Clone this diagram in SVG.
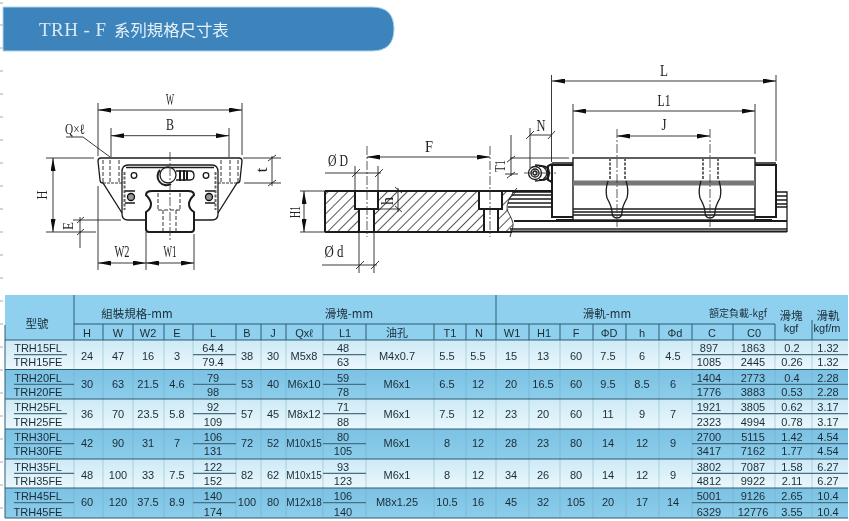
<svg xmlns="http://www.w3.org/2000/svg" width="849" height="521" viewBox="0 0 849 521">
<style>
text{font-family:"Liberation Sans","Noto Sans CJK TC",sans-serif;fill:#1a2c36;font-size:11px;text-anchor:middle}
.cjk{font-family:"Noto Sans CJK TC","Liberation Sans",sans-serif}
.hd{font-size:11.5px}
.sm{font-size:10px}
.d{font-family:"Liberation Serif","Noto Sans CJK TC",serif;font-size:16.5px;fill:#222}
.ln{fill:none;stroke:#1a1a1a;stroke-width:1.3}
.th{fill:none;stroke:#1a1a1a;stroke-width:2}
.dm{fill:none;stroke:#222;stroke-width:.9}
.ar{marker-start:url(#ah);marker-end:url(#ah)}
.ds{fill:none;stroke:#333;stroke-width:1;stroke-dasharray:4 2}
.dg{fill:none;stroke:#666;stroke-width:2;stroke-dasharray:3 1.5}
.cl{fill:none;stroke:#333;stroke-width:.8;stroke-dasharray:9 2 2 2}
.vl{stroke:#6ba5c2;stroke-width:.7;fill:none;opacity:.6}
.vd{stroke:#2f5f76;stroke-width:1;fill:none}
.rl{stroke:#2a5a72;stroke-width:1;fill:none}
.sp{stroke:#4a6f82;stroke-width:1.3;fill:none}
.lt{fill:url(#gl)}
.dk{fill:url(#gd)}
.soft{filter:url(#soft)}
</style>
<defs>
<filter id="soft" x="-2%" y="-2%" width="104%" height="104%"><feGaussianBlur stdDeviation="0.35"/></filter>
<marker id="ah" viewBox="0 0 13 5" refX="13" refY="2.5" markerWidth="13" markerHeight="5" markerUnits="userSpaceOnUse" orient="auto-start-reverse"><path d="M0 0L13 2.5L0 5z" fill="#111"/></marker>
<pattern id="hatch" width="7" height="7" patternUnits="userSpaceOnUse" patternTransform="rotate(45)"><line x1="3.5" y1="0" x2="3.5" y2="7" stroke="#555" stroke-width="1"/></pattern>
<linearGradient id="gl" x1="0" y1="0" x2="0" y2="1"><stop offset="0" stop-color="#cdeaf6"/><stop offset="1" stop-color="#ebf7fc"/></linearGradient>
<linearGradient id="gd" x1="0" y1="0" x2="0" y2="1"><stop offset="0" stop-color="#7cc2e4"/><stop offset="1" stop-color="#8ccdea"/></linearGradient>
</defs>
<rect width="849" height="521" fill="#fff"/>

<g id="margin-ticks" stroke="#aaa" stroke-width="1">
<path d="M0 3H3M0 25H3M0 48H3M0 71H3M0 94H3M0 117H3M0 140H3M0 163H3M0 186H3M0 209H3M0 232H3M0 255H3M0 278H3M0 301H3M0 324H3M0 347H3M0 370H3M0 393H3M0 416H3M0 439H3M0 462H3M0 485H3M0 508H3"/>
</g>

<g id="banner" class="soft">
<path d="M3 7H372Q394 7 394 29Q394 51 372 51H3Z" fill="#3d84bd" stroke="#a9d4ec" stroke-width="1"/>
<text x="39" y="36" textLength="67" lengthAdjust="spacing" style="font-family:'Liberation Serif',serif;font-size:19px;fill:#dbe9f3;text-anchor:start">TRH - F</text>
<text class="cjk" x="114" y="36" style="font-size:16.4px;fill:#e6f0f7;text-anchor:start">系列規格尺寸表</text>
</g>

<g id="front-view" class="soft">
<path class="ln" d="M101 158H239Q242 158 242 161L240 180Q240 183 237 183L218 213M101 158Q98 158 98 161L100 180Q100 183 103 183L122 213"/>
<path class="dm" d="M103 183H122M218 183H237" stroke-dasharray="3 1"/>
<path class="ln" d="M122 172Q122 165 128 165H212Q218 165 218 172V214Q218 220 212 220H194M122 172V214Q122 220 128 220H146"/>
<path class="ln" d="M126 167.5H214"/>
<path class="dg" d="M124.5 172V210M215.5 172V210"/>
<path class="th" d="M152 191H188Q194 191 194 195Q189 200 189 204Q189 209 194 212V229Q194 232 191 232H149Q146 232 146 229V212Q151 209 151 204Q151 200 146 195Q146 191 152 191Z"/>
<path class="ds" d="M103 160V182M110 160V182M119 160V182M221 160V182M230 160V182M238 160V182M158 193V210M180 193V210M163 210V232M176 210V232M158 210H180"/>
<circle class="ln" cx="134" cy="175.5" r="2.8"/>
<circle class="ln" cx="206" cy="175.5" r="2.8"/>
<circle cx="131" cy="197" r="3.5" fill="#999" stroke="#111" stroke-width="1.3"/>
<circle cx="209" cy="197" r="3.5" fill="#999" stroke="#111" stroke-width="1.3"/>
<path class="ln" d="M135 191H125M135 203H125M205 191H215M205 203H215"/>
<circle class="ln" cx="168" cy="175" r="8"/>
<path class="th" d="M160 170A9 9 0 0 0 171 184"/>
<path class="ln" d="M176 171H190Q194 171 194 175.5Q194 180 190 180H176"/>
<path class="th" d="M180 170V181M184 170V181M187 171V180"/>
<path class="cl" d="M170 152V240"/>
<path class="dm" d="M46 158H94M46 232H96M73 220H121M243 158H281M244 183H281M98 103V156M98 186V270M242 103V155M111 128V157M229 128V157M146 232V270M194 234V270"/>
<path class="dm ar" d="M98 110H242"/>
<path class="dm ar" d="M111 135.7H229"/>
<path class="dm ar" d="M53 158V232"/>
<path class="dm ar" d="M98 263H146"/>
<path class="dm ar" d="M146 263H194"/>
<path class="dm" d="M80 217V248M77 223L84 217M77 235L84 229M272 156V186M268 161L276 155M268 186L276 180"/>
<path class="dm" d="M66 137H83L110 157"/>
<text class="d" x="170" y="105" textLength="8" lengthAdjust="spacingAndGlyphs">W</text>
<text class="d" x="170" y="130" textLength="8" lengthAdjust="spacingAndGlyphs">B</text>
<text class="d" x="75" y="134" textLength="20" lengthAdjust="spacingAndGlyphs" style="font-size:14px">Q×ℓ</text>
<text class="d" transform="translate(47 195) rotate(-90)" textLength="9" lengthAdjust="spacingAndGlyphs" style="font-size:15px">H</text>
<text class="d" transform="translate(73 226) rotate(-90)" textLength="8" lengthAdjust="spacingAndGlyphs" style="font-size:15px">E</text>
<text class="d" transform="translate(267 170) rotate(-90)" textLength="5" lengthAdjust="spacingAndGlyphs">t</text>
<text class="d" x="122" y="257" textLength="15" lengthAdjust="spacingAndGlyphs">W2</text>
<text class="d" x="170" y="257" textLength="13" lengthAdjust="spacingAndGlyphs">W1</text>
</g>

<g id="section-view" class="soft">
<path d="M326 191H355V209H359V232H326ZM378 191H479V209H484V232H374V209H378ZM502 191H517L507 205L513 225L511 232H498V209H502Z" fill="url(#hatch)"/>
<path class="th" d="M325 191H552M325 232H512M325 191V232M355 191V209H378V191M359 209V232M374 209V232M479 191V209H502V191M484 209V232M498 209V232"/>
<path class="dm" d="M517 188Q506 200 507 210Q514 222 513 226L510 237"/>
<path class="cl" d="M367 146V237M490 146V237"/>
<path class="dm" d="M300 191H325M300 232H325M355 166V191M378 166V191M325 173H381M359 232V273M374 232V273M322 265H377M378 191H400M378 209H400M398 188V212"/>
<path class="dm" d="M352 177L360 169M375 177L383 169M356 269L364 261M371 269L379 261M395 187L402 193M395 206L402 212"/>
<path class="dm ar" d="M367 157H490"/>
<path class="dm ar" d="M304 191V232"/>
<text class="d" x="429" y="152" textLength="8" lengthAdjust="spacingAndGlyphs">F</text>
<text class="d" transform="translate(300 212) rotate(-90)" textLength="12" lengthAdjust="spacingAndGlyphs" style="font-size:15px">H1</text>
<text class="d" x="338" y="166" textLength="20" lengthAdjust="spacingAndGlyphs">Ø D</text>
<text class="d" x="334" y="257" textLength="19" lengthAdjust="spacingAndGlyphs">Ø d</text>
<text class="d" transform="translate(393 201) rotate(-90)" textLength="8" lengthAdjust="spacingAndGlyphs">h</text>
</g>

<g id="side-view" class="soft">
<path class="dm" d="M511 135V176M510 158H569M505 174H518M530 128V168M551.5 75V162M776 75V161M573 104V154M755 104V154M530 135H551"/>
<path class="dm" d="M526 139L534 131M548 139L555 131M507 162L515 156M507 178L515 172"/>
<path class="dm ar" d="M552 81H776"/>
<path class="dm ar" d="M573 111H755"/>
<path class="dm ar" d="M617 136H710"/>
<rect x="573" y="158" width="182" height="62" fill="#fff" stroke="#1a1a1a" stroke-width="1.4"/>
<rect x="573" y="180.5" width="182" height="5" fill="#777"/>
<path class="ln" d="M573 209H755M573 212H755M573 215H755"/>
<path class="th" d="M552 165V217H573M552 165H573M755 165H776V217H755M556 220H573M755 220H772"/>
<path class="ln" d="M552 163H573M755 163H776"/>
<path class="ln" d="M608 181Q605 190 607 198Q612 207 612 212Q612 218 617 218Q622 218 622 212Q622 207 627 198Q629 190 626 181"/>
<path class="ln" d="M701 181Q698 190 700 198Q705 207 705 212Q705 218 710 218Q715 218 715 212Q715 207 720 198Q722 190 719 181"/>
<path class="dg" d="M610 158V180M625 158V180M703 158V180M718 158V180"/>
<path class="cl" d="M617 129V227M710 129V227"/>
<path class="ln" d="M512 192H552M512 195H552M509 199H552M508 203H552M508 207H552"/>
<path class="ln" d="M776 192H787V232M776 196H787M776 200H787M776 204H787M776 207H787"/>
<path class="th" d="M514 221H787M510 231.5H787"/>
<path class="ln" d="M510 229H787"/>
<circle class="ln" cx="535" cy="173" r="2"/>
<circle class="ln" cx="535" cy="173" r="4"/>
<circle class="ln" cx="535" cy="173" r="6.5"/>
<path class="ln" d="M535 165Q546 165 547 173Q546 181 535 181"/>
<path class="th" d="M539 166Q549 165 549 173Q549 181 539 180"/>
<path class="th" d="M552 164L548 166V180L552 182"/>
<path class="cl" d="M524 173H556"/>
<text class="d" x="664" y="76" textLength="8" lengthAdjust="spacingAndGlyphs">L</text>
<text class="d" x="664" y="106" textLength="13" lengthAdjust="spacingAndGlyphs">L1</text>
<text class="d" x="664" y="130" textLength="5" lengthAdjust="spacingAndGlyphs">J</text>
<text class="d" x="541" y="131" textLength="9" lengthAdjust="spacingAndGlyphs">N</text>
<text class="d" transform="translate(505 166) rotate(-90)" textLength="12" lengthAdjust="spacingAndGlyphs" style="font-size:15px">T1</text>
</g>

<g id="table" class="soft">
<g id="table-bands">
<rect x="5" y="295" width="843" height="45" fill="#8fd0ee"/>
<rect class="lt" x="5" y="340" width="843" height="29.5"/>
<rect class="dk" x="5" y="369.5" width="843" height="29.5"/>
<rect class="lt" x="5" y="399" width="843" height="30"/>
<rect class="dk" x="5" y="429" width="843" height="30"/>
<rect class="lt" x="5" y="459" width="843" height="29"/>
<rect class="dk" x="5" y="488" width="843" height="30"/>
</g>
<g id="table-rules">
<path class="vl" d="M74 340V518M103 340V518M133 340V518M164 340V518M193 340V518M236 340V518M261 340V518M286 340V518M323 340V518M366 340V518M434 340V518M466 340V518M496 340V518M529 340V518M560 340V518M593 340V518M626 340V518M659 340V518M692 340V518M733 340V518M775 340V518M812 340V518"/>
<path class="vd" d="M74 295V340M496 295V340M103 324V340M133 324V340M164 324V340M193 324V340M236 324V340M261 324V340M286 324V340M323 324V340M366 324V340M434 324V340M466 324V340M529 324V340M560 324V340M593 324V340M626 324V340M659 324V340M692 324V340M733 324V340M775 324V340M812 320V340M5 325V518"/>
<path class="rl" d="M74 324H775M5 340H848M5 369.5H848M5 399H848M5 429H848M5 459H848M5 488H848M5 518H848"/>
<path class="sp" d="M14 354.7H67M193 354.7H236M323 354.7H366M692 354.7H848M14 384.3H74M193 384.3H236M323 384.3H366M692 384.3H848M14 413.7H67M193 413.7H236M323 413.7H366M692 413.7H848M14 443.7H74M193 443.7H236M323 443.7H366M692 443.7H848M14 473.3H74M193 473.3H236M323 473.3H366M692 473.3H848M14 502.7H74M193 502.7H236M323 502.7H366M692 502.7H848"/>
</g>
<g id="table-header">
<text class="cjk" x="37" y="328" style="font-size:11.5px">型號</text>
<text class="cjk hd" x="137" y="318">組裝規格-mm</text>
<text class="cjk hd" x="349" y="318">滑塊-mm</text>
<text class="cjk hd" x="607" y="318">滑軌-mm</text>
<text class="cjk sm" x="738" y="317">額定負載-kgf</text>
<text class="cjk hd" x="791" y="320">滑塊</text>
<text class="cjk hd" x="828" y="320">滑軌</text>
<text x="791" y="332">kgf</text>
<text x="827" y="332">kgf/m</text>
<text x="87" y="336.5">H</text><text x="118" y="336.5">W</text><text x="148" y="336.5">W2</text><text x="177" y="336.5">E</text><text x="213" y="336.5">L</text><text x="247" y="336.5">B</text><text x="273" y="336.5">J</text><text x="304" y="336.5">Qxℓ</text><text x="345" y="336.5">L1</text><text class="cjk" x="397" y="336.5">油孔</text><text x="450" y="336.5">T1</text><text x="479" y="336.5">N</text><text x="512" y="336.5">W1</text><text x="544" y="336.5">H1</text><text x="576" y="336.5">F</text><text x="609" y="336.5">ΦD</text><text x="642" y="336.5">h</text><text x="675" y="336.5">Φd</text><text x="712" y="336.5">C</text><text x="754" y="336.5">C0</text>
</g>
<g id="row-trh15">
<text x="38" y="352">TRH15FL</text><text x="38" y="366">TRH15FE</text>
<text x="87" y="359.7">24</text><text x="118" y="359.7">47</text><text x="148" y="359.7">16</text><text x="177" y="359.7">3</text><text x="213" y="352">64.4</text><text x="213" y="366">79.4</text><text x="247" y="359.7">38</text><text x="273" y="359.7">30</text><text x="304" y="359.7">M5x8</text><text x="343" y="352">48</text><text x="343" y="366">63</text><text x="397" y="359.7">M4x0.7</text><text x="447" y="359.7">5.5</text><text x="478" y="359.7">5.5</text><text x="511" y="359.7">15</text><text x="543" y="359.7">13</text><text x="576" y="359.7">60</text><text x="608" y="359.7">7.5</text><text x="642" y="359.7">6</text><text x="673" y="359.7">4.5</text><text x="709" y="352">897</text><text x="709" y="366">1085</text><text x="753" y="352">1863</text><text x="753" y="366">2445</text><text x="792" y="352">0.2</text><text x="792" y="366">0.26</text><text x="828" y="352">1.32</text><text x="828" y="366">1.32</text>
</g>
<g id="row-trh20">
<text x="38" y="382">TRH20FL</text><text x="38" y="396.3">TRH20FE</text>
<text x="87" y="388.3">30</text><text x="118" y="388.3">63</text><text x="148" y="388.3">21.5</text><text x="177" y="388.3">4.6</text><text x="213" y="382">79</text><text x="213" y="396.3">98</text><text x="247" y="388.3">53</text><text x="273" y="388.3">40</text><text x="304" y="388.3">M6x10</text><text x="343" y="382">59</text><text x="343" y="396.3">78</text><text x="397" y="388.3">M6x1</text><text x="447" y="388.3">6.5</text><text x="478" y="388.3">12</text><text x="511" y="388.3">20</text><text x="543" y="388.3">16.5</text><text x="576" y="388.3">60</text><text x="608" y="388.3">9.5</text><text x="642" y="388.3">8.5</text><text x="673" y="388.3">6</text><text x="709" y="382">1404</text><text x="709" y="396.3">1776</text><text x="753" y="382">2773</text><text x="753" y="396.3">3883</text><text x="792" y="382">0.4</text><text x="792" y="396.3">0.53</text><text x="828" y="382">2.28</text><text x="828" y="396.3">2.28</text>
</g>
<g id="row-trh25">
<text x="38" y="410.7">TRH25FL</text><text x="38" y="425.7">TRH25FE</text>
<text x="87" y="417.7">36</text><text x="118" y="417.7">70</text><text x="148" y="417.7">23.5</text><text x="177" y="417.7">5.8</text><text x="213" y="410.7">92</text><text x="213" y="425.7">109</text><text x="247" y="417.7">57</text><text x="273" y="417.7">45</text><text x="304" y="417.7">M8x12</text><text x="343" y="410.7">71</text><text x="343" y="425.7">88</text><text x="397" y="417.7">M6x1</text><text x="447" y="417.7">7.5</text><text x="478" y="417.7">12</text><text x="511" y="417.7">23</text><text x="543" y="417.7">20</text><text x="576" y="417.7">60</text><text x="608" y="417.7">11</text><text x="642" y="417.7">9</text><text x="673" y="417.7">7</text><text x="709" y="410.7">1921</text><text x="709" y="425.7">2323</text><text x="753" y="410.7">3805</text><text x="753" y="425.7">4994</text><text x="792" y="410.7">0.62</text><text x="792" y="425.7">0.78</text><text x="828" y="410.7">3.17</text><text x="828" y="425.7">3.17</text>
</g>
<g id="row-trh30">
<text x="38" y="440.7">TRH30FL</text><text x="38" y="455.3">TRH30FE</text>
<text x="87" y="447">42</text><text x="118" y="447">90</text><text x="148" y="447">31</text><text x="177" y="447">7</text><text x="213" y="440.7">106</text><text x="213" y="455.3">131</text><text x="247" y="447">72</text><text x="273" y="447">52</text><text class="sm" x="304" y="447">M10x15</text><text x="343" y="440.7">80</text><text x="343" y="455.3">105</text><text x="397" y="447">M6x1</text><text x="447" y="447">8</text><text x="478" y="447">12</text><text x="511" y="447">28</text><text x="543" y="447">23</text><text x="576" y="447">80</text><text x="608" y="447">14</text><text x="642" y="447">12</text><text x="673" y="447">9</text><text x="709" y="440.7">2700</text><text x="709" y="455.3">3417</text><text x="753" y="440.7">5115</text><text x="753" y="455.3">7162</text><text x="792" y="440.7">1.42</text><text x="792" y="455.3">1.77</text><text x="828" y="440.7">4.54</text><text x="828" y="455.3">4.54</text>
</g>
<g id="row-trh35">
<text x="38" y="470.7">TRH35FL</text><text x="38" y="485">TRH35FE</text>
<text x="87" y="479">48</text><text x="118" y="479">100</text><text x="148" y="479">33</text><text x="177" y="479">7.5</text><text x="213" y="470.7">122</text><text x="213" y="485">152</text><text x="247" y="479">82</text><text x="273" y="479">62</text><text class="sm" x="304" y="479">M10x15</text><text x="343" y="470.7">93</text><text x="343" y="485">123</text><text x="397" y="479">M6x1</text><text x="447" y="479">8</text><text x="478" y="479">12</text><text x="511" y="479">34</text><text x="543" y="479">26</text><text x="576" y="479">80</text><text x="608" y="479">14</text><text x="642" y="479">12</text><text x="673" y="479">9</text><text x="709" y="470.7">3802</text><text x="709" y="485">4812</text><text x="753" y="470.7">7087</text><text x="753" y="485">9922</text><text x="792" y="470.7">1.58</text><text x="792" y="485">2.11</text><text x="828" y="470.7">6.27</text><text x="828" y="485">6.27</text>
</g>
<g id="row-trh45">
<text x="38" y="500.3">TRH45FL</text><text x="38" y="515.7">TRH45FE</text>
<text x="87" y="506">60</text><text x="118" y="506">120</text><text x="148" y="506">37.5</text><text x="177" y="506">8.9</text><text x="213" y="500.3">140</text><text x="213" y="515.7">174</text><text x="247" y="506">100</text><text x="273" y="506">80</text><text class="sm" x="304" y="506">M12x18</text><text x="343" y="500.3">106</text><text x="343" y="515.7">140</text><text x="397" y="506">M8x1.25</text><text x="447" y="506">10.5</text><text x="478" y="506">16</text><text x="511" y="506">45</text><text x="543" y="506">32</text><text x="576" y="506">105</text><text x="608" y="506">20</text><text x="642" y="506">17</text><text x="673" y="506">14</text><text x="709" y="500.3">5001</text><text x="709" y="515.7">6329</text><text x="753" y="500.3">9126</text><text x="753" y="515.7">12776</text><text x="792" y="500.3">2.65</text><text x="792" y="515.7">3.55</text><text x="828" y="500.3">10.4</text><text x="828" y="515.7">10.4</text>
</g>
</g>
</svg>
